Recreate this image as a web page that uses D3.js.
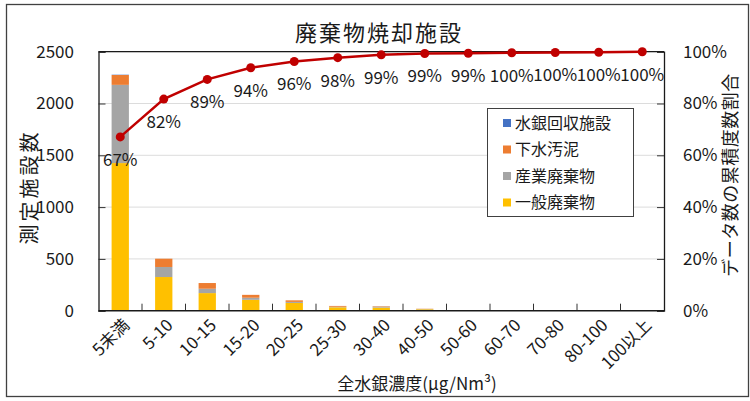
<!DOCTYPE html>
<html>
<head>
<meta charset="utf-8">
<script src="https://cdn.jsdelivr.net/npm/d3@7"></script>
<style>
  body { margin: 0; background: #fff; }
  text { font-family: "Noto Sans CJK JP", "Noto Sans", sans-serif; fill: #1a1a1a; }
</style>
</head>
<body>
<svg id="chart" width="750" height="401"></svg>
<script>
// categories (全水銀濃度)
const categories = ['5未満', '5-10', '10-15', '15-20', '20-25', '25-30', '30-40', '40-50', '50-60', '60-70', '70-80', '80-100', '100以上'];
// 施設数 per type
const general = [1425, 325, 170, 105, 75, 33, 30, 14, 4, 2, 1, 1, 5];     // 一般廃棄物
const industrial = [755, 97, 42, 20, 10, 5, 10, 3, 1, 1, 1, 1, 1];         // 産業廃棄物
const sewage = [95, 80, 55, 28, 15, 8, 4, 2, 0, 0, 0, 0, 0];               // 下水汚泥
const mercury = [3, 0, 0, 0, 0, 0, 0, 0, 0, 0, 0, 0, 0];                   // 水銀回収施設
// 累積度数割合
const cumulative = [0.671, 0.817, 0.893, 0.938, 0.962, 0.977, 0.988, 0.993, 0.994, 0.996, 0.997, 0.998, 1.0];
const leftTicks = [0, 500, 1000, 1500, 2000, 2500];
const rightTicks = [0, 0.2, 0.4, 0.6, 0.8, 1.0];

const seriesNames = ['一般廃棄物', '産業廃棄物', '下水汚泥', '水銀回収施設'];
const seriesColors = ['#FFC000', '#A5A5A5', '#ED7D31', '#4472C4'];

const svg = d3.select('#chart');
const plot = { left: 98.5, right: 664, top: 51.7, bottom: 310.7 };

// outer border
svg.append('rect')
  .attr('x', 6.5).attr('y', 4.5).attr('width', 742).attr('height', 392)
  .attr('fill', 'none').attr('stroke', '#404040').attr('stroke-width', 1.3);

const x = d3.scaleBand().domain(categories).range([plot.left, plot.right]).paddingInner(0).paddingOuter(0);
const y = d3.scaleLinear().domain([0, 2500]).range([plot.bottom, plot.top]);
const y2 = d3.scaleLinear().domain([0, 1]).range([plot.bottom, plot.top]);

// gridlines
svg.append('g')
  .selectAll('line')
  .data(leftTicks.slice(1))
  .enter()
  .append('line')
  .attr('x1', plot.left).attr('x2', plot.right)
  .attr('y1', d => y(d)).attr('y2', d => y(d))
  .attr('stroke', '#dcdcdc').attr('stroke-width', 1);

// stacked bars
const table = categories.map((c, i) => ({
  cat: c,
  '一般廃棄物': general[i],
  '産業廃棄物': industrial[i],
  '下水汚泥': sewage[i],
  '水銀回収施設': mercury[i],
}));
const stacked = d3.stack().keys(seriesNames)(table);
const barW = 17.3;

svg.append('g')
  .selectAll('g')
  .data(stacked)
  .enter()
  .append('g')
  .attr('fill', (d, i) => seriesColors[i])
  .selectAll('rect')
  .data(d => d)
  .enter()
  .append('rect')
  .attr('x', d => x(d.data.cat) + x.bandwidth() / 2 - barW / 2)
  .attr('y', d => y(d[1]))
  .attr('width', barW)
  .attr('height', d => Math.max(0, y(d[0]) - y(d[1])));

// left axis (ticks inside)
const leftAxis = svg.append('g')
  .attr('transform', `translate(${plot.left},0)`)
  .call(d3.axisRight(y).tickValues(leftTicks).tickSize(7).tickFormat(''));
leftAxis.select('.domain').attr('stroke', '#1a1a1a').attr('stroke-width', 1.3);
leftAxis.selectAll('line').attr('stroke', '#333');
svg.append('g')
  .selectAll('text')
  .data(leftTicks)
  .enter()
  .append('text')
  .attr('x', 74)
  .attr('y', d => y(d))
  .attr('dy', '0.35em')
  .attr('text-anchor', 'end')
  .style('font-size', '17px')
  .text(d => d);

// right axis (ticks inside)
const rightAxis = svg.append('g')
  .attr('transform', `translate(${plot.right},0)`)
  .call(d3.axisLeft(y2).tickValues(rightTicks).tickSize(7).tickFormat(''));
rightAxis.select('.domain').attr('stroke', '#1a1a1a').attr('stroke-width', 1.3);
rightAxis.selectAll('line').attr('stroke', '#333');
svg.append('g')
  .selectAll('text')
  .data(rightTicks)
  .enter()
  .append('text')
  .attr('x', 683)
  .attr('y', d => y2(d))
  .attr('dy', '0.35em')
  .attr('text-anchor', 'start')
  .style('font-size', '17px')
  .text(d => Math.round(d * 100) + '%');

// top border of plot
svg.append('line')
  .attr('x1', plot.left).attr('x2', plot.right)
  .attr('y1', plot.top).attr('y2', plot.top)
  .attr('stroke', '#1a1a1a').attr('stroke-width', 1.3);

// bottom axis, ticks between categories pointing up
const bounds = categories.slice(1).map(c => x(c));
svg.append('g')
  .selectAll('line')
  .data(bounds)
  .enter()
  .append('line')
  .attr('x1', d => d).attr('x2', d => d)
  .attr('y1', plot.bottom).attr('y2', plot.bottom - 7)
  .attr('stroke', '#333');
svg.append('line')
  .attr('x1', plot.left).attr('x2', plot.right)
  .attr('y1', plot.bottom).attr('y2', plot.bottom)
  .attr('stroke', '#1a1a1a').attr('stroke-width', 1.5);

svg.append('g')
  .selectAll('text')
  .data(categories)
  .enter()
  .append('text')
  .attr('transform', d => `translate(${x(d) + x.bandwidth() / 2 + 6}, 322) rotate(-45)`)
  .attr('text-anchor', 'end')
  .attr('dy', '0.35em')
  .style('font-size', '17px')
  .text(d => d);

// cumulative line
const cx = (d, i) => x(categories[i]) + x.bandwidth() / 2;
svg.append('path')
  .datum(cumulative)
  .attr('fill', 'none')
  .attr('stroke', '#C00000')
  .attr('stroke-width', 2.5)
  .attr('d', d3.line().x(cx).y(d => y2(d)));
svg.append('g')
  .selectAll('circle')
  .data(cumulative)
  .enter()
  .append('circle')
  .attr('cx', cx)
  .attr('cy', d => y2(d))
  .attr('r', 4.5)
  .attr('fill', '#C00000');
svg.append('g')
  .selectAll('text')
  .data(cumulative)
  .enter()
  .append('text')
  .attr('x', cx)
  .attr('y', d => y2(d) + 23)
  .attr('dy', '0.35em')
  .attr('text-anchor', 'middle')
  .style('font-size', '17px')
  .text(d => Math.round(d * 100) + '%');

// legend
const legend = svg.append('g');
legend.append('rect')
  .attr('x', 487.5).attr('y', 108.5).attr('width', 146).attr('height', 108)
  .attr('fill', '#fff').attr('stroke', '#404040').attr('stroke-width', 1);
const legendOrder = [3, 2, 1, 0];
legendOrder.forEach((k, i) => {
  const ly = 123 + i * 26.5;
  legend.append('rect')
    .attr('x', 503).attr('y', ly - 4).attr('width', 8).attr('height', 8)
    .attr('fill', seriesColors[k]);
  legend.append('text')
    .attr('x', 515).attr('y', ly)
    .attr('dy', '0.35em')
    .style('font-size', '16px')
    .text(seriesNames[k]);
});

// titles
svg.append('text')
  .attr('x', 379).attr('y', 33)
  .attr('dy', '0.35em')
  .attr('text-anchor', 'middle')
  .style('font-size', '22px')
  .style('letter-spacing', '2px')
  .text('廃棄物焼却施設');

svg.append('text')
  .attr('transform', 'translate(30,187) rotate(-90)')
  .attr('dy', '0.35em')
  .attr('text-anchor', 'middle')
  .style('font-size', '20px')
  .style('letter-spacing', '3px')
  .text('測定施設数');

svg.append('text')
  .attr('transform', 'translate(731,175) rotate(-90)')
  .attr('dy', '0.35em')
  .attr('text-anchor', 'middle')
  .style('font-size', '18px')
  .style('letter-spacing', '0.5px')
  .text('データ数の累積度数割合');

svg.append('text')
  .attr('x', 417).attr('y', 384)
  .attr('dy', '0.35em')
  .attr('text-anchor', 'middle')
  .style('font-size', '17px')
  .text('全水銀濃度(μg/Nm³)');
</script>
</body>
</html>
